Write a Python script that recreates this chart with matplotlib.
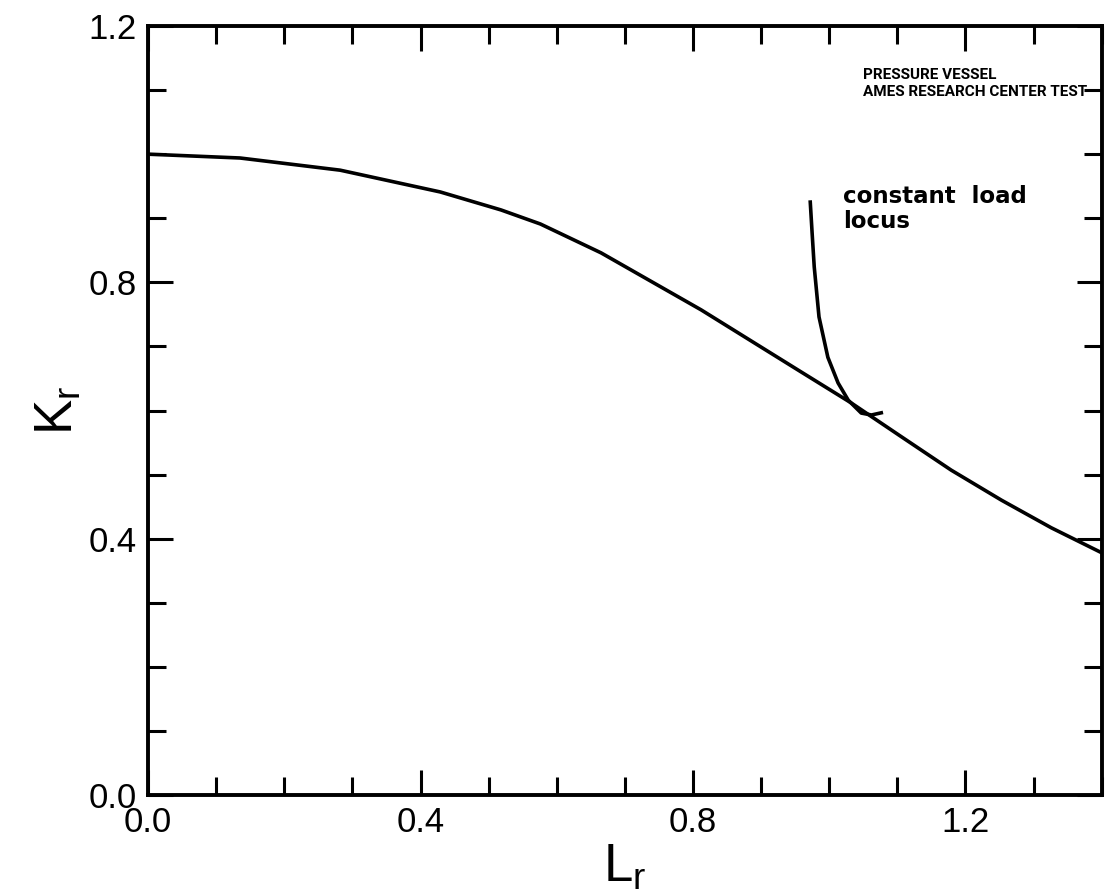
import matplotlib
matplotlib.use("Agg")
import matplotlib.pyplot as plt
from matplotlib.ticker import MultipleLocator

# failure assessment curve
lr_curve = [0.0, 0.135, 0.282, 0.429, 0.518, 0.576, 0.665, 0.812,
            0.959, 1.032, 1.106, 1.179, 1.253, 1.326, 1.4]
kr_curve = [1.0, 0.994, 0.975, 0.941, 0.913, 0.891, 0.846, 0.757,
            0.660, 0.612, 0.559, 0.507, 0.460, 0.417, 0.378]

# constant load locus
lr_locus = [0.972, 0.975, 0.978, 0.985, 0.998, 1.013, 1.028, 1.047, 1.062, 1.079]
kr_locus = [0.928, 0.875, 0.824, 0.746, 0.683, 0.643, 0.616, 0.596, 0.593, 0.597]

x_ticks = [0.0, 0.4, 0.8, 1.2]
y_ticks = [0.0, 0.4, 0.8, 1.2]

plt.rcParams['font.family'] = ['Liberation Sans', 'DejaVu Sans']

fig = plt.figure(figsize=(11.05, 8.96), dpi=100)
ax = fig.add_axes([0.134, 0.1127, 0.863, 0.8583])

ax.plot(lr_curve, kr_curve, color='black', lw=2.6, solid_capstyle='butt')
ax.plot(lr_locus, kr_locus, color='black', lw=2.6, solid_capstyle='butt')

ax.set_xlim(0, 1.4)
ax.set_ylim(0, 1.2)
ax.set_xticks(x_ticks)
ax.set_yticks(y_ticks)
ax.set_xticklabels(['%.1f' % v for v in x_ticks])
ax.set_yticklabels(['%.1f' % v for v in y_ticks])
ax.xaxis.set_minor_locator(MultipleLocator(0.1))
ax.yaxis.set_minor_locator(MultipleLocator(0.1))
ax.tick_params(which='both', direction='in', top=True, right=True, width=2.2,
               labelsize=25, pad=8)
ax.tick_params(which='major', length=18)
ax.tick_params(which='minor', length=13)

for s in ax.spines.values():
    s.set_linewidth(2.8)

ax.set_xlabel('L$_\\mathregular{r}$', fontsize=38, labelpad=2)
ax.set_ylabel('K$_\\mathregular{r}$', fontsize=38, labelpad=4)

ax.text(1.05, 1.11, 'PRESSURE VESSEL\nAMES RESEARCH CENTER TEST',
        family=['Roboto', 'DejaVu Sans'],
        fontsize=11, fontweight='bold', ha='left', va='center', linespacing=1.25)
ax.text(1.02, 0.915, 'constant  load\nlocus', family=['DejaVu Sans'],
        fontsize=16.5, fontweight='bold', ha='left', va='center', linespacing=1.1)

fig.savefig('out.png', dpi=100)
